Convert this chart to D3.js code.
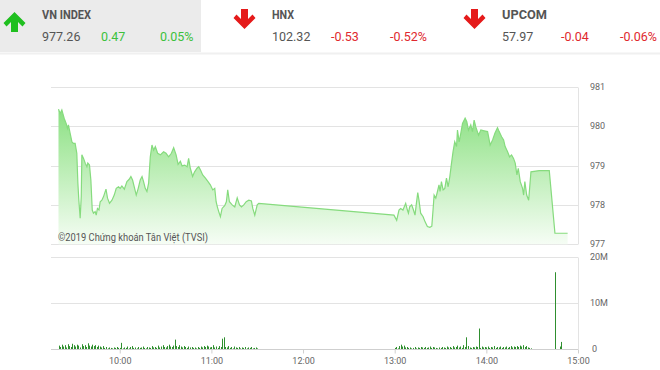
<!DOCTYPE html>
<html>
<head>
<meta charset="utf-8">
<script src="https://cdn.jsdelivr.net/npm/d3@7/dist/d3.min.js"></script>
<style>
  html, body { margin: 0; padding: 0; background: #fff; }
  svg { display: block; font-family: Roboto, "Noto Sans", sans-serif; }
</style>
</head>
<body>
<svg id="chart" width="660" height="370"></svg>
<script>
// ---------- DATA ----------
const indexNames   = ["VN INDEX", "HNX", "UPCOM"];
const indexValues  = ["977.26", "102.32", "57.97"];
const indexChanges = ["0.47", "-0.53", "-0.04"];
const indexPercent = ["0.05%", "-0.52%", "-0.06%"];
const indexUp      = [true, false, false];

// price: minutes after 09:00 and VN-Index level
const priceMinute = [19.9,21.0,22.1,23.6,24.9,25.8,26.4,27.5,28.7,29.7,30.8,31.9,32.6,33.2,34.1,34.8,35.2,36.3,37.4,38.5,39.1,40.2,41.1,42.0,42.8,43.9,44.6,45.4,46.4,47.2,48.3,49.4,51.0,52.0,53.3,54.9,56.4,57.7,59.2,60.3,61.4,63.0,64.7,66.2,67.3,68.4,69.5,70.8,72.1,73.4,74.6,75.6,76.7,77.8,78.9,80.0,81.1,82.2,83.3,84.8,86.6,88.7,90.3,92.0,93.8,95.3,96.9,98.2,99.7,100.8,102.5,104.1,105.1,106.2,107.7,109.0,110.6,111.7,112.8,114.3,116.1,117.8,119.3,120.9,122.2,123.1,123.9,124.8,125.9,127.0,128.7,129.8,130.7,131.8,133.6,135.3,136.9,138.4,139.7,141.2,142.8,144.5,146.2,147.1,148.4,150.0,151.0,
  239.5,241.3,242.8,243.9,245.4,247.2,248.3,249.0,249.8,251.1,252.3,253.3,254.2,255.1,255.9,257.0,258.6,259.9,261.4,263.0,264.3,265.1,265.8,266.9,268.0,269.0,269.7,270.6,271.7,272.8,273.9,275.0,276.1,277.2,278.2,279.3,280.5,281.1,282.2,283.3,284.4,286.1,287.2,288.3,289.8,290.9,292.0,293.1,294.9,296.4,298.6,300.8,302.5,304.1,305.6,307.3,308.4,310.0,311.3,312.3,313.9,315.2,316.5,317.8,318.9,320.0,320.9,322.2,323.7,324.4,325.2,326.4,327.7,329.2,334.6,341.2,344.9,353.2];
const priceValue = [980.43,980.32,980.41,980.20,980.07,979.94,980.03,979.82,979.60,979.56,979.56,979.31,978.55,978.13,977.66,978.21,979.27,979.18,979.06,978.97,979.06,979.01,978.63,977.87,977.79,977.83,977.74,977.91,977.87,978.08,978.12,978.21,978.40,978.17,978.04,978.12,978.25,978.42,978.46,978.42,978.48,978.40,978.59,978.65,978.72,978.63,978.46,978.25,978.42,978.63,978.72,978.59,978.42,978.34,978.55,979.22,979.52,979.39,979.48,979.31,979.27,979.35,979.31,979.22,979.31,979.45,979.27,979.03,979.11,978.99,979.01,978.97,979.18,978.93,978.72,978.84,978.93,978.97,978.89,978.76,978.68,978.59,978.51,978.38,978.42,978.08,977.95,977.83,977.70,977.91,977.98,978.08,978.38,978.08,978.00,977.95,978.18,978.00,977.95,978.00,978.08,978.12,978.10,977.91,977.74,978.00,978.04,
  977.74,977.61,977.87,977.91,977.87,978.04,977.87,977.79,977.95,978.00,977.87,977.74,978.04,978.31,978.12,977.79,977.70,977.57,977.45,977.43,977.46,977.87,978.25,978.17,978.34,978.51,978.34,978.59,978.38,978.42,978.68,978.46,978.72,979.06,979.35,979.60,979.48,979.90,979.60,979.82,980.07,980.20,980.11,979.90,980.03,979.86,980.15,979.98,979.77,979.90,979.88,979.86,979.52,979.65,979.82,979.96,979.86,979.73,979.65,979.48,979.35,979.22,979.27,979.18,979.06,978.76,978.93,978.59,978.42,978.25,978.59,978.25,978.12,978.84,978.87,978.87,977.28,977.28];

// volume (millions of shares), one bar per minute
const volMorningStart = 20;   // 09:20
const volMorning = [0.8,0.5,1.0,0.6,0.9,0.4,1.1,0.7,0.5,1.2,0.9,0.6,1.0,0.8,0.4,1.1,0.7,0.9,0.5,1.3,0.8,0.6,1.0,0.7,0.9,0.5,0.8,0.6,0.4,0.7,
  0.3,0.5,0.2,0.4,0.3,0.2,0.4,0.3,0.5,0.3,
  0.3,1.4,0.2,0.4,0.3,0.6,0.2,0.5,0.7,0.3,
  0.4,0.2,0.5,0.3,0.4,0.6,0.3,0.2,0.5,0.4,
  0.3,0.7,0.4,0.5,0.3,0.8,0.4,0.6,0.9,0.5,
  0.4,0.7,1.0,0.6,0.5,0.8,2.1,0.7,0.5,0.9,
  0.6,0.4,0.7,0.5,0.3,0.6,0.4,0.5,0.3,0.4,
  0.2,0.5,0.3,0.6,0.4,0.7,0.5,0.8,0.6,0.4,
  0.5,0.9,0.4,0.6,0.3,0.7,0.5,2.3,2.6,0.5,
  0.4,0.7,0.3,0.5,0.2,0.6,0.4,0.3,0.5,0.2,
  0.4,0.3,0.5,0.2,0.4,0.3,0.5,0.2,0.3,0.4,0.2];
const volAfternoonStart = 240; // 13:00
const volAfternoon = [0.3,0.5,0.2,0.7,1.0,0.6,0.8,0.4,0.5,0.3,
  0.4,0.2,0.3,0.5,0.2,0.4,0.3,0.5,0.4,0.3,
  0.5,0.3,0.4,0.6,0.3,0.5,0.4,0.3,0.2,0.4,
  0.3,0.5,0.4,0.3,0.6,0.4,0.5,0.3,0.7,0.4,
  0.5,0.8,0.4,0.6,0.3,0.9,0.5,2.6,0.7,0.4,
  0.3,0.5,0.4,0.6,0.5,4.5,0.3,0.6,0.4,0.5,
  0.4,0.6,0.3,0.5,0.4,0.7,0.3,0.5,0.4,0.6,
  0.3,0.5,0.4,0.6,0.3,0.5,0.7,0.4,0.6,0.5,
  0.7,0.5,0.8,0.6,0.9,0.5,0.7,0.4,0.3,0.2];
const volCloseMinute = [345, 348, 349];
const volCloseValue  = [16.7, 0.6, 1.6];

const priceTicks = [977, 978, 979, 980, 981];
const volTicks = [0, 10, 20];
const volTickLabels = ["0", "10M", "20M"];
const hourTicks = [10, 11, 12, 13, 14, 15];
const copyright = "©2019 Chứng khoán Tân Việt (TVSI)";

// ---------- HELPERS ----------
const day = new Date(2019, 0, 2);
const atMin = m => new Date(day.getTime() + (9 * 60 + m) * 60000);

const svg = d3.select("#chart");

// ---------- HEADER ----------
svg.append("rect").attr("x", 0).attr("y", 0).attr("width", 201).attr("height", 52).attr("fill", "#ebebeb");
svg.append("line").attr("x1", 0).attr("x2", 660).attr("y1", 53.5).attr("y2", 53.5).attr("stroke", "#f0f0f0").attr("stroke-width", 2);

const downArrow = "M6,0 L13,0 L13,10 L17.5,5.5 L20.5,9 L9.5,20 L-1.5,9 L1.5,5.5 L6,10 Z";
const blockX = [0, 230, 460];
const textX = [42, 272, 502];
const nameW = [49, 22, 45];
const chX = [101, 331, 561];
const pctX = [160, 390, 620];
indexNames.forEach((name, i) => {
  const g = svg.append("g");
  const color = indexUp[i] ? "#1fbf1f" : "#e51a1a";
  const ax = blockX[i] + 5;
  g.append("path")
    .attr("d", downArrow)
    .attr("fill", color)
    .attr("transform", indexUp[i] ? `translate(${ax},32) scale(1,-1)` : `translate(${ax},9)`);
  g.append("text").attr("x", textX[i]).attr("y", 19).attr("font-size", 13).attr("font-weight", "bold")
    .attr("fill", "#555").attr("textLength", nameW[i]).attr("lengthAdjust", "spacingAndGlyphs").text(name);
  g.append("text").attr("x", textX[i]).attr("y", 41).attr("font-size", 12.5).attr("fill", "#555").text(indexValues[i]);
  const vc = indexUp[i] ? "#3cc13c" : "#e0282e";
  g.append("text").attr("x", chX[i]).attr("y", 41).attr("font-size", 12.5).attr("fill", vc).text(indexChanges[i]);
  g.append("text").attr("x", pctX[i]).attr("y", 41).attr("font-size", 12.5).attr("fill", vc).text(indexPercent[i]);
});

// ---------- SCALES ----------
const left = 51, right = 578;
const x = d3.scaleTime().domain([atMin(15), atMin(360)]).range([left, right]);
const y = d3.scaleLinear().domain([977, 981]).range([244.3, 86.7]);
const yv = d3.scaleLinear().domain([0, 20]).range([349.3, 257]);

// ---------- PRICE PANEL ----------
const defs = svg.append("defs");
const grad = defs.append("linearGradient").attr("id", "pg")
  .attr("gradientUnits", "userSpaceOnUse").attr("x1", 0).attr("x2", 0).attr("y1", y(981)).attr("y2", y(977));
grad.append("stop").attr("offset", 0).attr("stop-color", "#7adb71");
grad.append("stop").attr("offset", 0.45).attr("stop-color", "#b2ebab");
grad.append("stop").attr("offset", 1).attr("stop-color", "#f6fdf5");

svg.append("g").selectAll("line").data(priceTicks).join("line")
  .attr("x1", left).attr("x2", right)
  .attr("y1", d => Math.round(y(d)) + 0.5).attr("y2", d => Math.round(y(d)) + 0.5)
  .attr("stroke", "#e3e3e3");
svg.append("line").attr("x1", right + 0.5).attr("x2", right + 0.5).attr("y1", Math.round(y(981)) + 0.5).attr("y2", Math.round(y(977)) + 0.5)
  .attr("stroke", "#e3e3e3");

const pts = priceMinute.map((m, i) => [atMin(m), priceValue[i]]);
svg.append("path").datum(pts)
  .attr("d", d3.area().x(d => x(d[0])).y0(y(977)).y1(d => y(d[1])))
  .attr("fill", "url(#pg)");
svg.append("path").datum(pts)
  .attr("d", d3.line().x(d => x(d[0])).y(d => y(d[1])))
  .attr("fill", "none").attr("stroke", "#86db7e").attr("stroke-width", 1.2);

svg.append("g").selectAll("text").data(priceTicks).join("text")
  .attr("x", 590).attr("y", d => y(d)).attr("dy", "0.35em")
  .attr("font-size", 9).attr("fill", "#666").text(d => d);

svg.append("text").attr("x", 58).attr("y", 241).attr("font-size", 10.5).attr("fill", "#555")
  .attr("textLength", 150).attr("lengthAdjust", "spacingAndGlyphs").text(copyright);

// ---------- VOLUME PANEL ----------
svg.append("g").selectAll("line").data([10, 20]).join("line")
  .attr("x1", left).attr("x2", right)
  .attr("y1", d => Math.round(yv(d)) + 0.5).attr("y2", d => Math.round(yv(d)) + 0.5)
  .attr("stroke", "#e3e3e3");
svg.append("line").attr("x1", right + 0.5).attr("x2", right + 0.5).attr("y1", Math.round(yv(20)) + 0.5).attr("y2", Math.round(yv(0)) + 0.5)
  .attr("stroke", "#e3e3e3");

const vols = [];
volMorning.forEach((v, i) => vols.push([atMin(volMorningStart + i), v]));
volAfternoon.forEach((v, i) => vols.push([atMin(volAfternoonStart + i), v]));
volCloseMinute.forEach((m, i) => vols.push([atMin(m), volCloseValue[i]]));

svg.append("g").selectAll("rect").data(vols).join("rect")
  .attr("x", d => Math.round(x(d[0])))
  .attr("width", 1)
  .attr("y", d => yv(d[1]))
  .attr("height", d => yv(0) - yv(d[1]))
  .attr("fill", "#2f8f2f");

// x axis
const xAxis = d3.axisBottom(x)
  .tickValues(hourTicks.map(h => atMin((h - 9) * 60)))
  .tickFormat(d3.timeFormat("%H:%M"))
  .tickSize(4).tickSizeOuter(0).tickPadding(4);
const ax = svg.append("g").attr("transform", `translate(0,${Math.round(yv(0)) + 0.5})`).call(xAxis);
ax.select(".domain").attr("stroke", "#cfcfcf").attr("d", `M${left},0H${right}`);
ax.selectAll(".tick line").attr("stroke", "#cfcfcf");
ax.selectAll("text").attr("font-size", 9).attr("fill", "#666").attr("font-family", "Roboto, sans-serif");

svg.append("g").selectAll("text").data(volTicks).join("text")
  .attr("x", (d, i) => i === 0 ? 592 : 590).attr("y", d => yv(d)).attr("dy", "0.35em")
  .attr("font-size", 9).attr("fill", "#666").text((d, i) => volTickLabels[i]);
</script>
</body>
</html>
